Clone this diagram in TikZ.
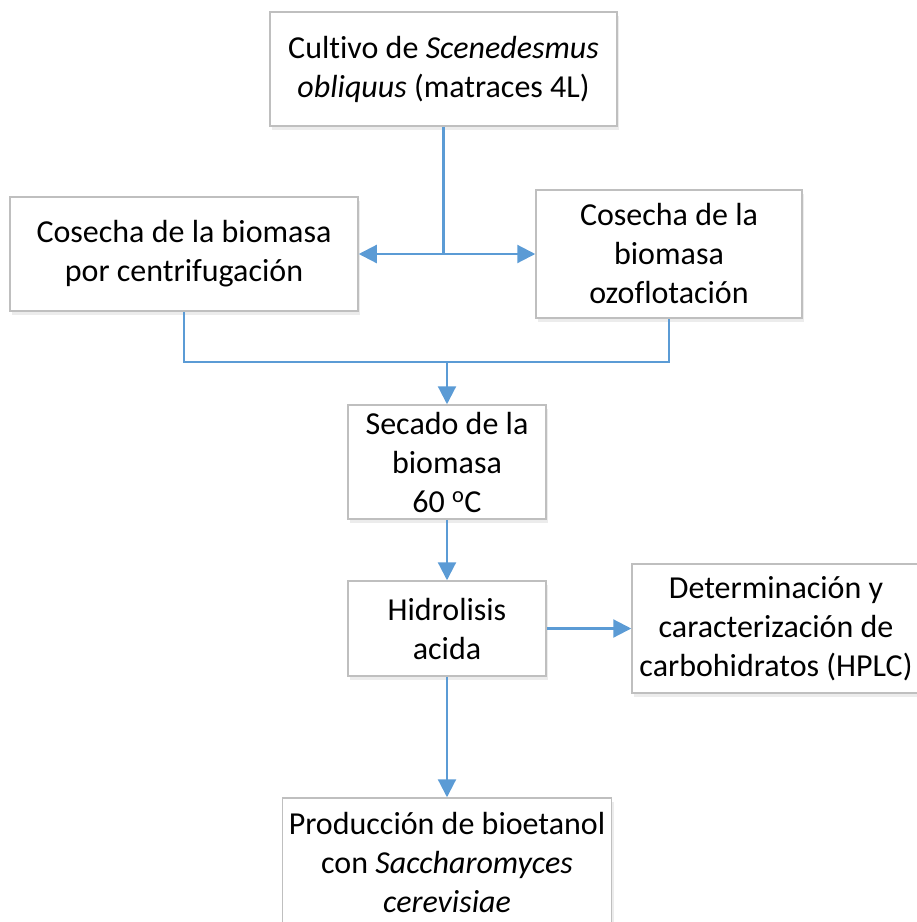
\documentclass[tikz,border=0pt]{standalone}
\usepackage{fontspec}
\setmainfont[Ligatures=NoCommon]{Carlito}
\usetikzlibrary{arrows.meta, shadows}
\definecolor{azul}{RGB}{91,155,213}
\definecolor{borde}{RGB}{191,191,191}

\begin{document}
\begin{tikzpicture}[x=1pt, y=-1pt]
	\tikzstyle{caja}=[draw=borde, line width=1.5pt, fill=white, align=center,
	  inner sep=0pt, font=\fontsize{32}{39}\selectfont,
	  drop shadow={opacity=0.15, shadow xshift=2pt, shadow yshift=-4pt}]
	\tikzstyle{flecha}=[-{Triangle[length=18pt,width=18pt]}, line width=2.2pt, color=azul]
	\tikzstyle{linea}=[line width=2.2pt, color=azul]
	\useasboundingbox (0,0) rectangle (917,922);
	% cajas
	\node[caja, minimum width=347pt, minimum height=114pt] (cultivo) at (443.5,69)
	  {Cultivo de \textit{Scenedesmus}\\ \textit{obliquus} (matraces 4L)};
	\node[caja, minimum width=348pt, minimum height=114pt] (centrif) at (184,254)
	  {Cosecha de la biomasa\\ por centrifugación};
	\node[caja, minimum width=266pt, minimum height=128pt] (ozo) at (669,254)
	  {Cosecha de la\\ biomasa\\ ozoflotación};
	\node[caja, minimum width=198pt, minimum height=114pt] (secado) at (447,462)
	  {Secado de la\\ biomasa\\ 60 \textsuperscript{o}C};
	\node[caja, minimum width=198pt, minimum height=95pt] (hidro) at (447,628.5)
	  {Hidrolisis\\ acida};
	\node[caja, minimum width=288pt, minimum height=129pt] (hplc) at (776,628.5)
	  {Determinación y\\ caracterización de\\ carbohidratos (HPLC)};
	\node[caja, minimum width=329pt, minimum height=128pt] (prod) at (447,862)
	  {Producción de bioetanol\\ con \textit{Saccharomyces}\\ \textit{cerevisiae}};
	% conectores
	\coordinate (split) at (cultivo.south |- centrif.east);
	\coordinate (merge) at (447,362);
	\draw[linea] (cultivo.south) -- (split);
	\draw[flecha] (split) -- (centrif.east);
	\draw[flecha] (split) -- (ozo.west);
	\draw[linea] (centrif.south) |- (merge);
	\draw[linea] (ozo.south) |- (merge);
	\draw[flecha] (merge) -- (secado.north);
	\draw[flecha] (secado) -- (hidro);
	\draw[flecha] (hidro) -- (hplc);
	\draw[flecha] (hidro) -- (prod);
\end{tikzpicture}
\end{document}
